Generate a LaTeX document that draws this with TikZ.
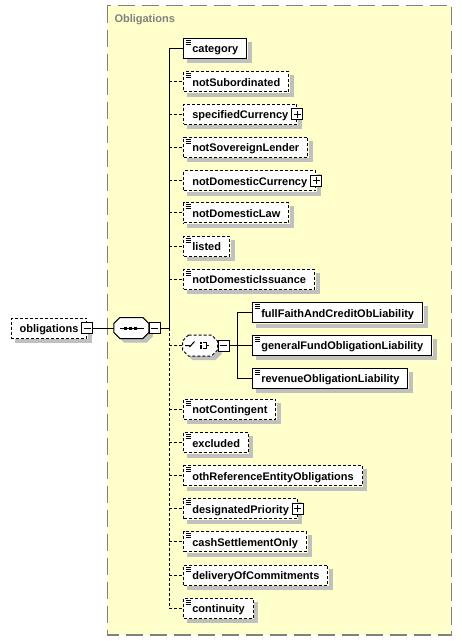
\documentclass[tikz,border=0pt]{standalone}
\usepackage{fontspec}
\setmainfont{Liberation Sans}

\definecolor{groupfill}{RGB}{255,255,204}
\definecolor{groupline}{RGB}{128,128,128}
\definecolor{shadowgray}{RGB}{192,192,192}

% octagon round a (hidden) compositor node
\newcommand\octpath[1]{([xshift=6pt]#1.north west) -- ([xshift=-6pt]#1.north east) -- ([yshift=-6pt]#1.north east)
  -- ([yshift=6pt]#1.south east) -- ([xshift=-6pt]#1.south east) -- ([xshift=6pt]#1.south west)
  -- ([yshift=6pt]#1.south west) -- ([yshift=-6pt]#1.north west) -- cycle}

\tikzset{
  elem/.style={draw, fill=white, anchor=west, minimum height=20pt, inner xsep=8.5pt, inner ysep=0pt,
    text height=10pt, text depth=1pt, font=\bfseries\fontsize{11}{13}\selectfont},
  opt/.style={dash pattern=on 3pt off 2pt},
  simple/.style={path picture={
    \foreach \k in {2,4,6} \draw[solid, line width=1pt] ([xshift=2pt, yshift={-\k*1pt}]path picture bounding box.north west) -- ++(5.5,0);}},
  expander/.style={draw, solid, fill=white, minimum size=11pt, inner sep=0pt},
  minusbox/.style={expander, path picture={
    \draw[solid] ([xshift=-3.5pt]path picture bounding box.center) -- ([xshift=3.5pt]path picture bounding box.center);}},
  plusbox/.style={expander, path picture={
    \draw[solid] ([xshift=-3.5pt]path picture bounding box.center) -- ([xshift=3.5pt]path picture bounding box.center);
    \draw[solid] ([yshift=-3.5pt]path picture bounding box.center) -- ([yshift=3.5pt]path picture bounding box.center);}},
  compositor/.style={rectangle, minimum width=34pt, minimum height=20pt, inner sep=0pt},
  dropped/.style={shadowgray, transform canvas={xshift=4pt, yshift=-4pt}},
}

\begin{document}
\begin{tikzpicture}[x=1pt, y=-1pt, line width=1pt]
  \useasboundingbox (0,0) rectangle (462,641);
  \draw[groupline, line width=1.5pt, dash pattern=on 17.5pt off 6.5pt, fill=groupfill] (107.3,5.5) rectangle (451.7,635);
  \node[anchor=west, inner sep=0pt, text=groupline, font=\bfseries\fontsize{11}{13}\selectfont] (grouplabel) at (114,19.5) {Obligations};

  % root element and its sequence
  \node[elem, opt] (obligations) at (10.7,328) {obligations\hspace{4.5pt}};
  \node[compositor] (seq) at (131.3,328) {};
  \fill[dropped] \octpath{seq};
  \draw[fill=white] \octpath{seq};
  \begin{scope}[shift={(seq.center)}]
    \draw (-11,0) -- (13,0);
    \foreach \dd in {-5.5,-0.5,4.5} \fill (\dd-1.5,-1.5) rectangle ++(3,3);
  \end{scope}
  \node[minusbox, anchor=west] (seqexp) at (seq.east) {};
  \coordinate (bus) at (169,328);
  \draw (seqexp.east) -- (bus);

  \node[elem, simple] (category) at (183.3,48.3) {category};
  \node[elem, opt] (specifiedCurrency) at (183.3,114) {specifiedCurrency\hspace{4.5pt}};
  \node[elem, opt] (notDomesticCurrency) at (183.3,180.7) {notDomesticCurrency\hspace{4.5pt}};
  \node[elem, opt, simple] (designatedPriority) at (183.3,508.5) {designatedPriority\hspace{4.5pt}};
  \foreach \nm/\yy in {notSubordinated/81.7, notSovereignLender/147.3, notDomesticLaw/212.7, listed/246,
      notDomesticIssuance/279, notContingent/409.3, excluded/442.7, othReferenceEntityObligations/475.5,
      cashSettlementOnly/541.7, deliveryOfCommitments/575, continuity/608}
    \node[elem, opt, simple] (\nm) at (183.3,\yy) {\nm};

  \draw (category.west) -- (category.west -| bus) -- (bus);
  \draw[opt] (bus) -- (continuity.west -| bus);
  \foreach \nm in {notSubordinated, specifiedCurrency, notSovereignLender, notDomesticCurrency, notDomesticLaw,
      listed, notDomesticIssuance, notContingent, excluded, othReferenceEntityObligations, designatedPriority,
      cashSettlementOnly, deliveryOfCommitments, continuity}
    \draw[opt] (\nm.west -| bus) -- (\nm.west);

  % the choice of liability kinds
  \node[compositor] (choice) at (200,345.5) {};
  \fill[dropped] \octpath{choice};
  \draw[opt, fill=white] \octpath{choice};
  \begin{scope}[shift={(choice.center)}]
    \draw (-15,0) -- (-10.5,0) (-10.5,1.5) -- (-5.5,-4);
    \foreach \dd in {-2.7,0,2.7} \fill (-0.5,\dd-1) rectangle ++(2,2);
    \draw (2.7,-2.7) -- (6.7,-2.7) -- (6.7,2.7) -- (2.7,2.7) (6.7,0) -- (9.3,0);
  \end{scope}
  \node[minusbox, anchor=west] (choiceexp) at (choice.east) {};
  \draw[opt] (bus |- choice.west) -- (choice.west);
  \coordinate (branch) at (237,345.5);
  \draw (choiceexp.east) -- (branch);
  \foreach \nm/\yy in {fullFaithAndCreditObLiability/312.5, generalFundObligationLiability/345.3, revenueObligationLiability/378.3} {
    \node[elem, simple] (\nm) at (252.3,\yy) {\nm};
    \draw (\nm.west -| branch) -- (\nm.west);
  }
  \draw (fullFaithAndCreditObLiability.west -| branch) -- (revenueObligationLiability.west -| branch);

  % drop shadows: strips right of and below each box
  \foreach \nm in {obligations, category, notSubordinated, specifiedCurrency, notSovereignLender, notDomesticCurrency,
      notDomesticLaw, listed, notDomesticIssuance, notContingent, excluded, othReferenceEntityObligations,
      designatedPriority, cashSettlementOnly, deliveryOfCommitments, continuity, fullFaithAndCreditObLiability,
      generalFundObligationLiability, revenueObligationLiability} {
    \fill[shadowgray] ([xshift=0.5pt, yshift=-4pt]\nm.north east) rectangle ([xshift=4.5pt, yshift=-4.5pt]\nm.south east);
    \fill[shadowgray] ([xshift=4pt, yshift=-0.5pt]\nm.south west) rectangle ([xshift=4.5pt, yshift=-4.5pt]\nm.south east);
  }

  % expanders go on top of the shadows
  \node[minusbox] (oblexp) at (obligations.east) {};
  \draw (oblexp.east) -- (seq.west);
  \node[plusbox] (specifiedCurrencyexp) at (specifiedCurrency.east) {};
  \node[plusbox] (notDomesticCurrencyexp) at (notDomesticCurrency.east) {};
  \node[plusbox] (designatedPriorityexp) at (designatedPriority.east) {};
\end{tikzpicture}
\end{document}
